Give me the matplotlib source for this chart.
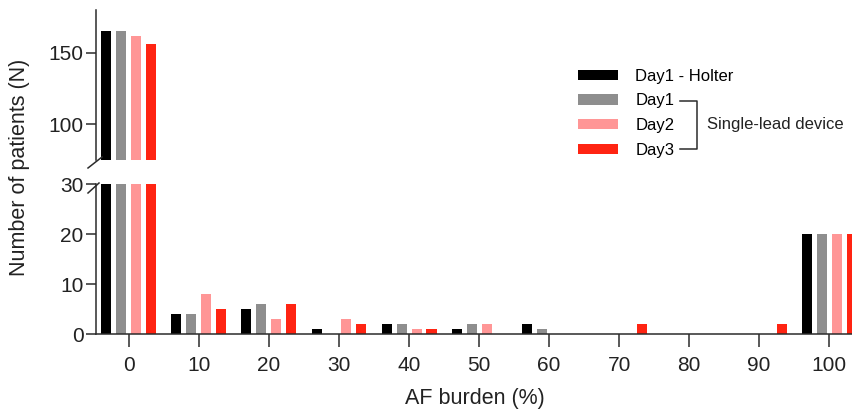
import numpy as np
import matplotlib
matplotlib.use('Agg')
import matplotlib.pyplot as plt
from matplotlib.patches import Patch

plt.rcParams['font.family'] = ['Liberation Sans', 'DejaVu Sans']

# --- Data ---
burden = [0, 10, 20, 30, 40, 50, 60, 70, 80, 90, 100]
series_names = ["Day1 - Holter", "Day1", "Day2", "Day3"]
holter_day1 = [165, 4, 5, 1, 2, 1, 2, 0, 0, 0, 20]
device_day1 = [165, 4, 6, 0, 2, 2, 1, 0, 0, 0, 20]
device_day2 = [162, 8, 3, 3, 1, 2, 0, 0, 0, 0, 20]
device_day3 = [156, 5, 6, 2, 1, 0, 0, 2, 0, 2, 20]
colors = ['#000000', '#8e8e8e', '#ff9696', '#ff2412']

AXC = '#2b2b2b'
TXT = '#222222'
W, H = 853, 412
fig = plt.figure(figsize=(W / 100, H / 100), dpi=100)

# axes placed in pixel coords
def px_axes(x0, y0, x1, y1):
    return fig.add_axes([x0 / W, 1 - y1 / H, (x1 - x0) / W, (y1 - y0) / H])

ax_hi = px_axes(96, 10, 853, 160)
ax_lo = px_axes(96, 184, 853, 334)

xs = np.array(burden, dtype=float)
bw = 1.43
offs = [-3.21, -1.07, 1.07, 3.21]
data = [holter_day1, device_day1, device_day2, device_day3]

for ax in (ax_hi, ax_lo):
    for vals, off, c in zip(data, offs, colors):
        ax.bar(xs + off, vals, width=bw, color=c, edgecolor='none')
    ax.set_xlim(-4.7, 103.4)
    for s in ('top', 'right'):
        ax.spines[s].set_visible(False)
    for s in ('left', 'bottom'):
        ax.spines[s].set_color(AXC)
        ax.spines[s].set_linewidth(1.1)
    ax.tick_params(colors=AXC, labelcolor=TXT, labelsize=15,
                   length=7, width=1.1, pad=2)

ax_hi.set_ylim(75, 180)
ax_hi.set_yticks([100, 150])
ax_hi.spines['bottom'].set_visible(False)
ax_hi.set_xticks([])

ax_lo.set_ylim(0, 30)
ax_lo.set_yticks([0, 10, 20, 30])
ax_lo.set_xticks(burden)
ax_lo.tick_params(axis='x', length=9, pad=7)
ax_lo.set_xlabel("AF burden (%)", fontsize=15.5, color=TXT, labelpad=9)

# break marks
kw = dict(color=AXC, lw=1.1, clip_on=False, transform=fig.transFigure)
fig.add_artist(plt.Line2D([88 / W, 102 / W], [1 - 168 / H, 1 - 157 / H], **kw))
fig.add_artist(plt.Line2D([88 / W, 99 / W], [1 - 193 / H, 1 - 183 / H], **kw))

fig.text(20 / W, 1 - 167 / H, "Number of patients (N)", rotation=90,
         ha='center', va='center', fontsize=15.5, color=TXT)

# legend
handles = [Patch(facecolor=c, edgecolor='none') for c in colors]
ax_hi.legend(handles, series_names, loc='upper left',
             bbox_to_anchor=(475 / 757, 1 - 52 / 150), frameon=False,
             fontsize=12, handlelength=2.4, handleheight=0.6,
             labelspacing=0.58, handletextpad=1.05, borderaxespad=0)

# bracket for the single-lead device rows
bk = dict(color=AXC, lw=1.1, transform=fig.transFigure)
fig.add_artist(plt.Line2D([680 / W, 697 / W, 697 / W, 680 / W],
                          [1 - 101 / H, 1 - 101 / H, 1 - 149 / H, 1 - 149 / H], **bk))
fig.text(707 / W, 1 - 125 / H, "Single-lead device", ha='left', va='center',
         fontsize=12, color=TXT)

fig.savefig("out.png", dpi=100)
